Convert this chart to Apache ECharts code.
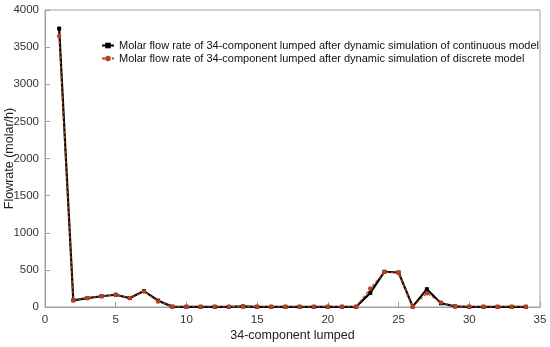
<!DOCTYPE html>
<html><head><meta charset="utf-8">
<script src="https://cdn.jsdelivr.net/npm/echarts@6/dist/echarts.min.js"></script>
<style>html,body{margin:0;padding:0;background:#fff}#c{width:550px;height:347px}</style>
</head><body><div id="c"></div>
<script>
const components = [1,2,3,4,5,6,7,8,9,10,11,12,13,14,15,16,17,18,19,20,21,22,23,24,25,26,27,28,29,30,31,32,33,34];
const continuousModel = [3750,90,120,145,165,120,215,85,5,3,3,3,3,8,3,3,3,3,3,3,3,3,190,475,465,5,240,50,8,3,3,3,3,3];
const discreteModel   = [3650,90,120,145,165,120,210,75,5,3,3,3,3,8,3,3,3,3,3,3,3,3,250,470,460,5,185,60,8,3,3,3,3,3];
const xTicks = [0,5,10,15,20,25,30,35];
const yTicks = [0,500,1000,1500,2000,2500,3000,3500,4000];
const names = ['Molar flow rate of 34-component lumped after dynamic simulation of continuous model',
               'Molar flow rate of 34-component lumped after dynamic simulation of discrete model'];

const chart = echarts.init(document.getElementById('c'));
const axisCommon = {
  axisLine:{show:true,lineStyle:{color:'#a0a0a0',width:1}},
  axisTick:{show:true,inside:true,length:5,lineStyle:{color:'#a0a0a0'}},
  splitLine:{show:false},
  nameMoveOverlap:false,
  axisLabel:{color:'#333',fontFamily:'Liberation Sans, Arial',fontSize:11.5,formatter:v=>String(v)}
};
chart.setOption({
  animation:false,
  backgroundColor:'#fff',
  grid:{left:45,right:10,top:10,bottom:40,containLabel:false,outerBoundsMode:'none',show:true,borderColor:'#a0a0a0',borderWidth:1},
  legend:{
    top:35,left:96,orient:'vertical',itemGap:2,itemWidth:12,itemHeight:7,
    textStyle:{fontFamily:'Liberation Sans, Arial',fontSize:11,color:'#111'},
    data:names
  },
  xAxis:Object.assign({type:'value',min:xTicks[0],max:xTicks[xTicks.length-1],interval:5,
    name:'34-component lumped',nameLocation:'middle',nameGap:22,
    nameTextStyle:{fontFamily:'Liberation Sans, Arial',fontSize:12.5,color:'#222'}},axisCommon,
    {axisLabel:Object.assign({},axisCommon.axisLabel,{margin:7})}),
  yAxis:Object.assign({type:'value',min:yTicks[0],max:yTicks[yTicks.length-1],interval:500,
    name:'Flowrate (molar/h)',nameLocation:'middle',nameGap:29,
    nameTextStyle:{fontFamily:'Liberation Sans, Arial',fontSize:12.5,color:'#222'}},axisCommon,
    {axisLabel:Object.assign({},axisCommon.axisLabel,{margin:6})}),
  series:[
    {name:names[0],type:'line',data:components.map((c,i)=>[c,continuousModel[i]]),
     symbol:'rect',symbolSize:4,lineStyle:{color:'#000',width:2.2},itemStyle:{color:'#000'},z:2},
    {name:names[1],type:'line',data:components.map((c,i)=>[c,discreteModel[i]]),
     symbol:'circle',symbolSize:4.5,lineStyle:{color:'#b8401f',width:1.2,type:[3,2]},itemStyle:{color:'#b8401f'},z:3}
  ]
});
</script></body></html>
